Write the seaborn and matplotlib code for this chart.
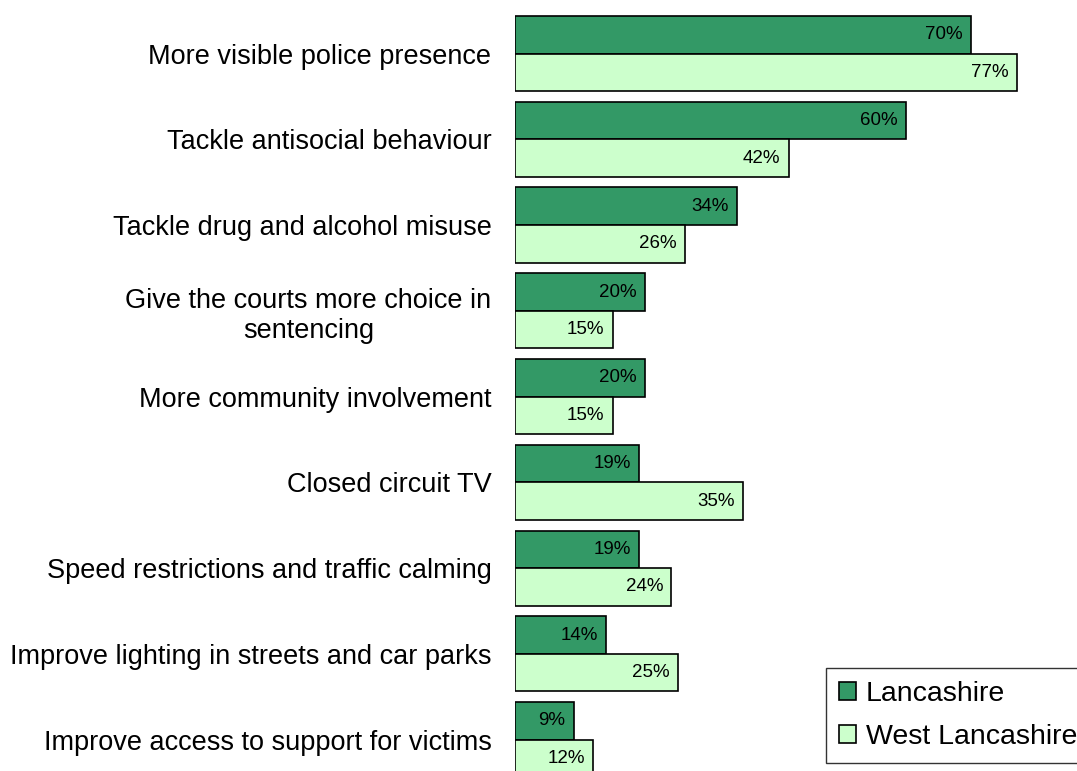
import pandas as pd
import matplotlib
matplotlib.use('Agg')
import matplotlib.pyplot as plt
import seaborn as sns

categories = ['More visible police presence',
              'Tackle antisocial behaviour',
              'Tackle drug and alcohol misuse',
              'Give the courts more choice in\nsentencing',
              'More community involvement',
              'Closed circuit TV',
              'Speed restrictions and traffic calming',
              'Improve lighting in streets and car parks',
              'Improve access to support for victims']
lancashire = [70, 60, 34, 20, 20, 19, 19, 14, 9]
west_lancashire = [77, 42, 26, 15, 15, 35, 24, 25, 12]
series = ['Lancashire', 'West Lancashire']
colors = ['#339966', '#CCFFCC']

df = pd.DataFrame({
    'category': categories * 2,
    'value': lancashire + west_lancashire,
    'area': [series[0]] * len(categories) + [series[1]] * len(categories),
})

sns.set_style('white')
plt.rcParams['font.family'] = ['Liberation Sans', 'DejaVu Sans']
plt.rcParams['text.color'] = 'black'
plt.rcParams['ytick.color'] = 'black'

fig = plt.figure(figsize=(10.77, 7.71), dpi=100)
ax = fig.add_axes([515 / 1077, 0, 1 - 515 / 1077, 1])

sns.barplot(data=df, y='category', x='value', hue='area', palette=colors,
            width=0.875, edgecolor='black', linewidth=1.2, orient='h',
            saturation=1, ax=ax)

for cont in ax.containers:
    texts = ax.bar_label(cont, labels=[f'{int(v)}%' for v in cont.datavalues],
                         label_type='edge', padding=-6, fontsize=13.5,
                         color='black')
    for t in texts:
        t.set_ha('right')

ax.set_xlim(0, 86.2)
ax.set_ylim(8.367, -0.624)
ax.set_xlabel('')
ax.set_ylabel('')
ax.set_xticks([])
ax.tick_params(axis='y', length=0, pad=17, labelsize=19.5, labelcolor='black')
for lbl in ax.get_yticklabels():
    lbl.set_multialignment('center')
for s in ax.spines.values():
    s.set_visible(False)

ax.legend(loc='upper left', bbox_to_anchor=(826 / 1077, 1 - 668 / 771),
          bbox_transform=fig.transFigure, frameon=True, fancybox=False,
          edgecolor='black', fontsize=20.5, handlelength=0.6, handleheight=0.6,
          handletextpad=0.35, borderpad=0.45, labelspacing=0.6, title=None,
          borderaxespad=0)
ax.get_legend().get_frame().set_linewidth(1.0)

fig.savefig('out.png', dpi=100)
